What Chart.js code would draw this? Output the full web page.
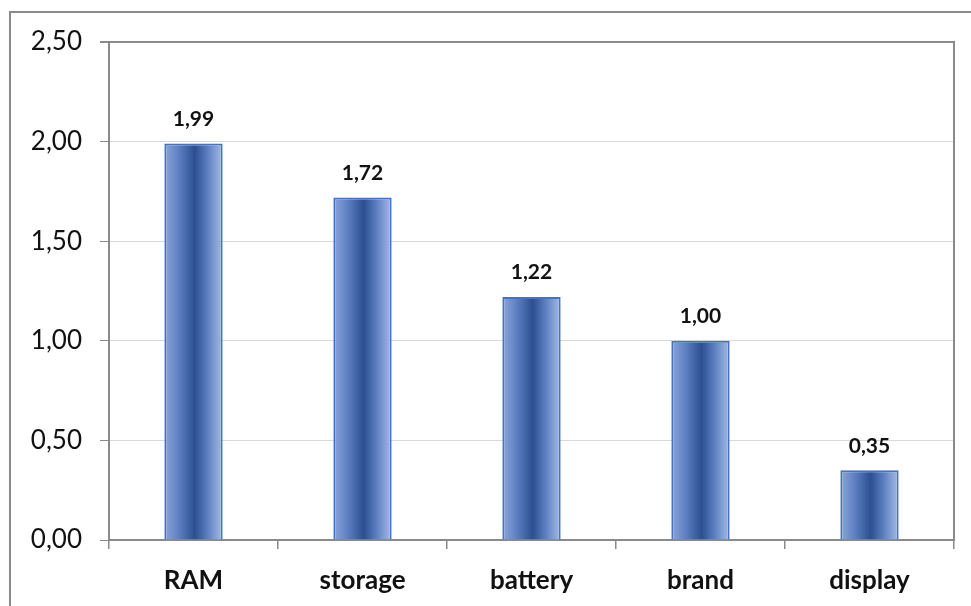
<!DOCTYPE html>
<html>
<head>
<meta charset="utf-8">
<script src="https://cdn.jsdelivr.net/npm/chart.js@4.4.0/dist/chart.umd.min.js"></script>
<style>
  html, body { margin: 0; padding: 0; background: #fff; }
  #wrap { position: relative; width: 971px; height: 606px; overflow: hidden; }
  #frame { position: absolute; left: 9px; top: 11px; width: 1000px; height: 700px;
           border-left: 2px solid #8a8a8a; border-top: 2px solid #8a8a8a; box-sizing: border-box; }
  canvas { position: absolute; left: 0; top: 0; }
</style>
</head>
<body>
<div id="wrap">
  <div id="frame"></div>
  <canvas id="c" width="971" height="606"></canvas>
</div>
<script>
const categories = ['RAM', 'storage', 'battery', 'brand', 'display'];
const values = [1.99, 1.72, 1.22, 1.00, 0.35];
const yTicks = [0, 0.5, 1.0, 1.5, 2.0, 2.5];

const BAR_PCT = 0.345;
const fmt = v => v.toFixed(2).replace('.', ',');

function barGradient(ctx) {
  const chart = ctx.chart;
  const sx = chart.scales.x;
  if (!sx || ctx.dataIndex === undefined) return '#4a6fb5';
  const cx = sx.getPixelForValue(ctx.dataIndex);
  const w = (sx.width / categories.length) * BAR_PCT;
  if (!isFinite(cx) || !isFinite(w) || w <= 0) return '#4a6fb5';
  const g = chart.ctx.createLinearGradient(cx - w / 2, 0, cx + w / 2, 0);
  g.addColorStop(0, '#8ca5da');
  g.addColorStop(0.25, '#5d7fc2');
  g.addColorStop(0.52, '#2b4f91');
  g.addColorStop(0.75, '#5f81c3');
  g.addColorStop(1, '#a6bce6');
  return g;
}

// value labels above each bar
const valueLabels = {
  id: 'valueLabels',
  afterDatasetsDraw(chart) {
    const c = chart.ctx;
    const meta = chart.getDatasetMeta(0);
    c.save();
    c.font = 'bold 21px Lato';
    c.fillStyle = '#111';
    c.textAlign = 'center';
    c.textBaseline = 'bottom';
    meta.data.forEach((bar, i) => {
      c.fillText(fmt(values[i]), bar.x, bar.y - 14);
    });
    c.restore();
  }
};

new Chart(document.getElementById('c'), {
  type: 'bar',
  data: {
    labels: categories,
    datasets: [{
      data: values,
      backgroundColor: barGradient,
      borderColor: '#4472c4',
      borderWidth: 2,
      barPercentage: BAR_PCT,
      categoryPercentage: 1.0
    }]
  },
  options: {
    responsive: false,
    animation: false,
    layout: { padding: { left: 0, right: 17, top: 42, bottom: 0 } },
    plugins: { legend: { display: false }, tooltip: { enabled: false } },
    scales: {
      x: {
        grid: { drawOnChartArea: false, drawTicks: true, tickLength: 9, color: '#8a8a8a', tickColor: '#8a8a8a', lineWidth: 1.5 },
        border: { color: '#8a8a8a', width: 2 },
        ticks: { font: { family: 'Lato', size: 26, weight: 'bold' }, color: '#111', padding: 16 },
        afterFit(s) { s.height = 66; }
      },
      y: {
        min: 0, max: 2.5,
        afterBuildTicks(s) { s.ticks = yTicks.map(v => ({ value: v })); },
        grid: {
          color: ctx => (ctx.tick && ctx.tick.value === 2.5) ? '#8a8a8a' : '#d9d9d9',
          lineWidth: ctx => (ctx.tick && ctx.tick.value === 2.5) ? 2 : 1,
          tickColor: '#8a8a8a', tickLength: 9
        },
        border: { color: '#8a8a8a', width: 2 },
        ticks: { font: { family: 'Lato', size: 26 }, color: '#111', padding: 18, callback: v => fmt(v) },
        afterFit(s) { s.width = 109; }
      },
      yRight: {
        position: 'right',
        min: 0, max: 2.5,
        ticks: { display: false },
        grid: { drawOnChartArea: false, drawTicks: false },
        border: { color: '#8a8a8a', width: 2 },
        afterFit(s) { s.width = 0; }
      }
    }
  },
  plugins: [valueLabels]
});
</script>
</body>
</html>
